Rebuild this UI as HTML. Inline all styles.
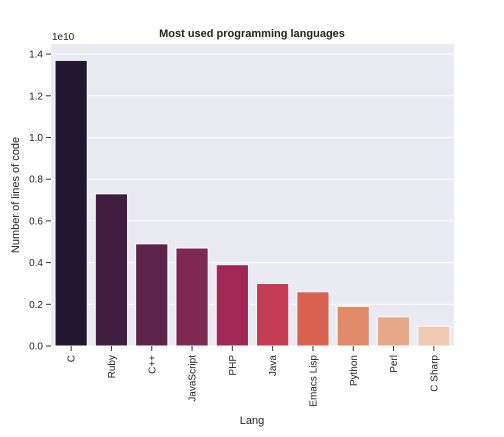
<!DOCTYPE html>
<html><head><meta charset="utf-8"><style>
body{margin:0;background:#fff;font-family:"Liberation Sans",sans-serif}
</style></head><body>
<svg id="chart" width="504" height="432" xmlns="http://www.w3.org/2000/svg" font-family="Liberation Sans, sans-serif">
<rect x="51" y="44" width="403" height="302" fill="#eaeaf2"/>
<g id="grid"></g><g id="bars"></g><g id="axes"></g>
<text x="252" y="37" text-anchor="middle" font-size="11" font-weight="bold" fill="#222">Most used programming languages</text>
<text x="52" y="40" font-size="10" fill="#222">1e10</text>
<text transform="translate(19,195) rotate(-90)" text-anchor="middle" font-size="11" fill="#222">Number of lines of code</text>
<text x="252" y="424" text-anchor="middle" font-size="11" fill="#222">Lang</text>
</svg>
<script>
const categories=["C","Ruby","C++","JavaScript","PHP","Java","Emacs Lisp","Python","Perl","C Sharp"];
const values=[13.7,7.3,4.9,4.7,3.9,3.0,2.6,1.9,1.4,0.95];
const colors=["#221730","#411e40","#5c2449","#7f2952","#a12755","#c53d52","#d86150","#e08a6a","#e8a88a","#efc9b2"];
const yTicks=[0,0.2,0.4,0.6,0.8,1.0,1.2,1.4];
const ns="http://www.w3.org/2000/svg";
const L=51,R=454,B=346,pxPer=208.5; // px per 1e10
const band=(R-L)/categories.length;
const y=v=>B-v/10*pxPer;
const x=i=>L+band*i+band/2;
function mk(t,a,p){const e=document.createElementNS(ns,t);for(const k in a)e.setAttribute(k,a[k]);p.appendChild(e);return e;}
const grid=document.getElementById('grid'),bars=document.getElementById('bars'),axes=document.getElementById('axes');
yTicks.forEach(t=>{
 const g=mk('line',{x1:L,x2:R,y1:y(t*10),y2:y(t*10),stroke:'#fff','stroke-width':1},grid);
 
 
 const tk=mk('line',{x1:L-5,x2:L,y1:y(t*10),y2:y(t*10),stroke:'#333'},axes);
 
 
 const lb=mk('text',{x:L-8,y:y(t*10)+3.5,'text-anchor':'end','font-size':10,fill:'#222'},axes);
 lb.textContent=t.toFixed(1);
 
 
});
categories.forEach((c,i)=>{
 const w=band*0.8;
 const r=mk('rect',{x:x(i)-w/2,y:y(values[i]),width:w,height:B-y(values[i]),fill:colors[i],stroke:'#fff','stroke-width':1},bars);
 
 
 const tk=mk('line',{x1:x(i),x2:x(i),y1:B,y2:B+5,stroke:'#333'},axes);
 
 
 const lb=mk('text',{transform:`translate(${x(i)+3.5},${B+9}) rotate(-90)`,'text-anchor':'end','font-size':10,fill:'#222'},axes);
 lb.textContent=c;
 
 
});
</script>
</body></html>
